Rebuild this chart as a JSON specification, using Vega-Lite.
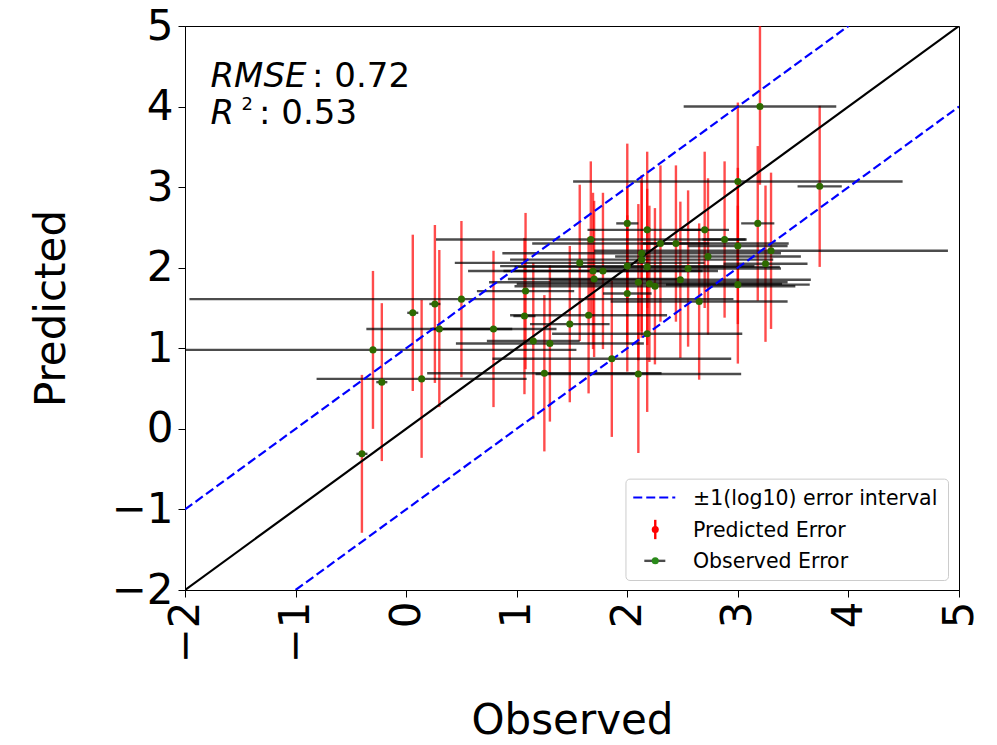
{
  "$schema": "https://vega.github.io/schema/vega-lite/v6.json",
  "autosize": {"type": "none"},
  "padding": {"left": 185, "top": 26, "right": 38, "bottom": 155},
  "width": 774,
  "height": 564,
  "background": "white",
  "config": {
    "font": "DejaVu Sans",
    "view": {"stroke": "#000", "strokeWidth": 1},
    "axis": {
      "grid": false, "domainColor": "#000", "domainWidth": 1, "tickColor": "#000", "tickWidth": 1,
      "labelColor": "#000", "titleColor": "#000", "labelFontSize": 42, "titleFontSize": 42,
      "titleFontWeight": "normal", "labelFont": "DejaVu Sans", "titleFont": "DejaVu Sans",
      "tickSize": 7, "labelFlush": false, "labelOverlap": false, "labelBound": false
    }
  },
  "datasets": {
    "points": [
      {"obs": -0.40, "pred": -0.31, "obs_lo": -0.45, "obs_hi": -0.35, "pred_lo": -1.29, "pred_hi": 0.67},
      {"obs": -0.30, "pred": 0.98, "obs_lo": -2.14, "obs_hi": 1.54, "pred_lo": 0.00, "pred_hi": 1.96},
      {"obs": -0.22, "pred": 0.58, "obs_lo": -0.27, "obs_hi": -0.17, "pred_lo": -0.40, "pred_hi": 1.56},
      {"obs": 0.06, "pred": 1.44, "obs_lo": 0.01, "obs_hi": 0.11, "pred_lo": 0.47, "pred_hi": 2.41},
      {"obs": 0.14, "pred": 0.62, "obs_lo": -0.81, "obs_hi": 1.09, "pred_lo": -0.36, "pred_hi": 1.60},
      {"obs": 0.26, "pred": 1.55, "obs_lo": 0.21, "obs_hi": 0.31, "pred_lo": 0.57, "pred_hi": 2.53},
      {"obs": 0.30, "pred": 1.24, "obs_lo": -0.36, "obs_hi": 0.96, "pred_lo": 0.27, "pred_hi": 2.22},
      {"obs": 0.50, "pred": 1.61, "obs_lo": -1.96, "obs_hi": 2.96, "pred_lo": 0.64, "pred_hi": 2.58},
      {"obs": 0.79, "pred": 1.24, "obs_lo": 0.22, "obs_hi": 1.36, "pred_lo": 0.27, "pred_hi": 2.21},
      {"obs": 1.08, "pred": 1.71, "obs_lo": 0.64, "obs_hi": 1.52, "pred_lo": 0.74, "pred_hi": 2.68},
      {"obs": 1.07, "pred": 1.40, "obs_lo": 0.97, "obs_hi": 1.17, "pred_lo": 0.43, "pred_hi": 2.37},
      {"obs": 1.15, "pred": 1.09, "obs_lo": 0.73, "obs_hi": 1.57, "pred_lo": 0.12, "pred_hi": 2.06},
      {"obs": 1.30, "pred": 1.06, "obs_lo": 0.45, "obs_hi": 2.15, "pred_lo": 0.09, "pred_hi": 2.03},
      {"obs": 1.25, "pred": 0.69, "obs_lo": 0.19, "obs_hi": 2.31, "pred_lo": -0.28, "pred_hi": 1.66},
      {"obs": 1.48, "pred": 1.30, "obs_lo": 1.12, "obs_hi": 1.84, "pred_lo": 0.33, "pred_hi": 2.27},
      {"obs": 1.65, "pred": 1.41, "obs_lo": 0.94, "obs_hi": 2.36, "pred_lo": 0.44, "pred_hi": 2.38},
      {"obs": 1.86, "pred": 0.87, "obs_lo": 0.78, "obs_hi": 2.94, "pred_lo": -0.10, "pred_hi": 1.84},
      {"obs": 2.10, "pred": 0.68, "obs_lo": 1.17, "obs_hi": 3.03, "pred_lo": -0.30, "pred_hi": 1.66},
      {"obs": 2.18, "pred": 1.18, "obs_lo": 1.32, "obs_hi": 3.04, "pred_lo": 0.21, "pred_hi": 2.15},
      {"obs": 2.65, "pred": 1.58, "obs_lo": 1.85, "obs_hi": 3.45, "pred_lo": 0.61, "pred_hi": 2.55},
      {"obs": 2.00, "pred": 1.68, "obs_lo": 1.78, "obs_hi": 2.22, "pred_lo": 0.71, "pred_hi": 2.65},
      {"obs": 2.25, "pred": 1.77, "obs_lo": 0.98, "obs_hi": 3.52, "pred_lo": 0.80, "pred_hi": 2.74},
      {"obs": 2.20, "pred": 1.80, "obs_lo": 1.00, "obs_hi": 3.40, "pred_lo": 0.83, "pred_hi": 2.77},
      {"obs": 2.10, "pred": 1.82, "obs_lo": 0.75, "obs_hi": 3.45, "pred_lo": 0.85, "pred_hi": 2.79},
      {"obs": 2.48, "pred": 1.85, "obs_lo": 1.30, "obs_hi": 3.66, "pred_lo": 0.88, "pred_hi": 2.82},
      {"obs": 1.70, "pred": 1.86, "obs_lo": 0.92, "obs_hi": 2.48, "pred_lo": 0.89, "pred_hi": 2.83},
      {"obs": 2.55, "pred": 1.99, "obs_lo": 1.71, "obs_hi": 3.39, "pred_lo": 1.02, "pred_hi": 2.96},
      {"obs": 1.78, "pred": 1.96, "obs_lo": 0.88, "obs_hi": 2.68, "pred_lo": 0.99, "pred_hi": 2.93},
      {"obs": 1.69, "pred": 1.96, "obs_lo": 0.56, "obs_hi": 2.82, "pred_lo": 0.99, "pred_hi": 2.93},
      {"obs": 2.18, "pred": 2.01, "obs_lo": 0.98, "obs_hi": 3.38, "pred_lo": 1.04, "pred_hi": 2.98},
      {"obs": 2.00, "pred": 2.02, "obs_lo": 0.85, "obs_hi": 3.15, "pred_lo": 1.05, "pred_hi": 2.99},
      {"obs": 1.57, "pred": 2.06, "obs_lo": 0.44, "obs_hi": 2.70, "pred_lo": 1.09, "pred_hi": 3.03},
      {"obs": 2.73, "pred": 2.14, "obs_lo": 1.89, "obs_hi": 3.57, "pred_lo": 1.17, "pred_hi": 3.11},
      {"obs": 2.13, "pred": 2.10, "obs_lo": 0.94, "obs_hi": 3.32, "pred_lo": 1.13, "pred_hi": 3.07},
      {"obs": 2.13, "pred": 2.18, "obs_lo": 0.87, "obs_hi": 3.39, "pred_lo": 1.21, "pred_hi": 3.15},
      {"obs": 2.44, "pred": 2.30, "obs_lo": 2.14, "obs_hi": 2.74, "pred_lo": 1.33, "pred_hi": 3.27},
      {"obs": 2.30, "pred": 2.30, "obs_lo": 1.14, "obs_hi": 3.46, "pred_lo": 1.33, "pred_hi": 3.27},
      {"obs": 1.67, "pred": 2.35, "obs_lo": 0.27, "obs_hi": 3.07, "pred_lo": 1.38, "pred_hi": 3.32},
      {"obs": 2.70, "pred": 2.47, "obs_lo": 2.48, "obs_hi": 2.92, "pred_lo": 1.50, "pred_hi": 3.44},
      {"obs": 2.18, "pred": 2.47, "obs_lo": 1.64, "obs_hi": 2.72, "pred_lo": 1.50, "pred_hi": 3.44},
      {"obs": 2.00, "pred": 2.55, "obs_lo": 1.90, "obs_hi": 2.10, "pred_lo": 1.56, "pred_hi": 3.54},
      {"obs": 3.20, "pred": 4.00, "obs_lo": 2.51, "obs_hi": 3.89, "pred_lo": 3.03, "pred_hi": 5.00},
      {"obs": 3.00, "pred": 3.07, "obs_lo": 1.51, "obs_hi": 4.49, "pred_lo": 2.09, "pred_hi": 4.05},
      {"obs": 3.74, "pred": 3.01, "obs_lo": 3.54, "obs_hi": 3.94, "pred_lo": 2.01, "pred_hi": 4.01},
      {"obs": 3.18, "pred": 2.55, "obs_lo": 3.03, "obs_hi": 3.33, "pred_lo": 1.59, "pred_hi": 3.51},
      {"obs": 2.88, "pred": 2.35, "obs_lo": 2.68, "obs_hi": 3.08, "pred_lo": 1.38, "pred_hi": 3.32},
      {"obs": 3.00, "pred": 2.27, "obs_lo": 2.55, "obs_hi": 3.45, "pred_lo": 1.30, "pred_hi": 3.24},
      {"obs": 3.30, "pred": 2.21, "obs_lo": 1.70, "obs_hi": 4.90, "pred_lo": 1.24, "pred_hi": 3.18},
      {"obs": 3.25, "pred": 2.05, "obs_lo": 2.87, "obs_hi": 3.63, "pred_lo": 1.08, "pred_hi": 3.02},
      {"obs": 3.00, "pred": 1.79, "obs_lo": 2.35, "obs_hi": 3.65, "pred_lo": 0.81, "pred_hi": 2.77}
    ],
    "identity": [{"obs": -2, "pred": -2}, {"obs": 5, "pred": 5}],
    "bands": [
      {"obs": -2, "pred": -1, "band": "upper"}, {"obs": 4, "pred": 5, "band": "upper"},
      {"obs": -1, "pred": -2, "band": "lower"}, {"obs": 5, "pred": 4, "band": "lower"}
    ],
    "one": [{}]
  },
  "encoding": {
    "x": {"type": "quantitative",
          "scale": {"domain": [-2, 5], "nice": false, "zero": false},
          "axis": {"values": [-2, -1, 0, 1, 2, 3, 4, 5], "format": "d", "labelAngle": 270, "labelPadding": 4,
                   "labelExpr": "replace(datum.label, '-', '−')", "title": "Observed", "titlePadding": 38}},
    "y": {"type": "quantitative",
          "scale": {"domain": [-2, 5], "nice": false, "zero": false},
          "axis": {"values": [-2, -1, 0, 1, 2, 3, 4, 5], "format": "d", "labelPadding": 5,
                   "labelExpr": "replace(datum.label, '-', '−')", "title": "Predicted", "titlePadding": 38}}
  },
  "layer": [
    {
      "data": {"name": "points"},
      "mark": {"type": "rule", "color": "red", "opacity": 0.7, "strokeWidth": 2.4, "clip": true},
      "encoding": {
        "x": {"field": "obs"},
        "y": {"field": "pred_lo"},
        "y2": {"field": "pred_hi"}
      }
    },
    {
      "data": {"name": "points"},
      "mark": {"type": "rule", "color": "black", "opacity": 0.7, "strokeWidth": 2.4, "clip": true},
      "encoding": {
        "x": {"field": "obs_lo"},
        "x2": {"field": "obs_hi"},
        "y": {"field": "pred"}
      }
    },
    {
      "data": {"name": "identity"},
      "mark": {"type": "line", "color": "black", "strokeWidth": 2.2, "clip": true},
      "encoding": {
        "x": {"field": "obs"},
        "y": {"field": "pred"}
      }
    },
    {
      "data": {"name": "bands"},
      "mark": {"type": "line", "color": "blue", "strokeWidth": 2.2, "strokeDash": [9, 4], "clip": true},
      "encoding": {
        "x": {"field": "obs"},
        "y": {"field": "pred"},
        "detail": {"field": "band", "type": "nominal"}
      }
    },
    {
      "data": {"name": "points"},
      "mark": {"type": "point", "filled": true, "shape": "circle", "size": 50, "color": "#2d6a00", "opacity": 1},
      "encoding": {
        "x": {"field": "obs"},
        "y": {"field": "pred"}
      }
    },
    {
      "data": {"name": "one"},
      "mark": {"type": "text", "text": "RMSE", "fontStyle": "italic", "fontSize": 34, "align": "left", "baseline": "alphabetic", "color": "black"},
      "encoding": {"x": {"datum": -1.77}, "y": {"datum": 4.243}}
    },
    {
      "data": {"name": "one"},
      "mark": {"type": "text", "text": ": 0.72", "fontSize": 34, "align": "left", "baseline": "alphabetic", "color": "black"},
      "encoding": {"x": {"datum": -0.851}, "y": {"datum": 4.243}}
    },
    {
      "data": {"name": "one"},
      "mark": {"type": "text", "text": "R", "fontStyle": "italic", "fontSize": 34, "align": "left", "baseline": "alphabetic", "color": "black"},
      "encoding": {"x": {"datum": -1.77}, "y": {"datum": 3.784}}
    },
    {
      "data": {"name": "one"},
      "mark": {"type": "text", "text": "2", "fontSize": 18, "align": "left", "baseline": "alphabetic", "color": "black"},
      "encoding": {"x": {"datum": -1.49}, "y": {"datum": 3.958}}
    },
    {
      "data": {"name": "one"},
      "mark": {"type": "text", "text": ": 0.53", "fontSize": 34, "align": "left", "baseline": "alphabetic", "color": "black"},
      "encoding": {"x": {"datum": -1.33}, "y": {"datum": 3.784}}
    },
    {
      "data": {"name": "one"},
      "mark": {"type": "rect", "fill": "white", "fillOpacity": 0.8, "stroke": "#cccccc", "strokeWidth": 1, "cornerRadius": 4},
      "encoding": {
        "x": {"datum": 1.988}, "x2": {"datum": 4.905},
        "y": {"datum": -0.624}, "y2": {"datum": -1.882}
      }
    },
    {
      "data": {"name": "one"},
      "mark": {"type": "rule", "color": "blue", "strokeWidth": 2.2, "strokeDash": [9, 4]},
      "encoding": {
        "x": {"datum": 2.054}, "x2": {"datum": 2.434},
        "y": {"datum": -0.852}
      }
    },
    {
      "data": {"name": "one"},
      "mark": {"type": "rule", "color": "red", "strokeWidth": 2.4},
      "encoding": {
        "x": {"datum": 2.253},
        "y": {"datum": -1.129}, "y2": {"datum": -1.369}
      }
    },
    {
      "data": {"name": "one"},
      "mark": {"type": "point", "filled": true, "shape": "circle", "size": 50, "color": "red", "opacity": 1},
      "encoding": {
        "x": {"datum": 2.253},
        "y": {"datum": -1.249}
      }
    },
    {
      "data": {"name": "one"},
      "mark": {"type": "rule", "color": "black", "opacity": 0.7, "strokeWidth": 2.4},
      "encoding": {
        "x": {"datum": 2.154}, "x2": {"datum": 2.344},
        "y": {"datum": -1.638}
      }
    },
    {
      "data": {"name": "one"},
      "mark": {"type": "point", "filled": true, "shape": "circle", "size": 50, "color": "#2a8a1a", "opacity": 1},
      "encoding": {
        "x": {"datum": 2.253},
        "y": {"datum": -1.638}
      }
    },
    {
      "data": {"name": "one"},
      "mark": {"type": "text", "text": "±1(log10) error interval", "fontSize": 20.5, "align": "left", "baseline": "alphabetic", "color": "black"},
      "encoding": {"x": {"datum": 2.594}, "y": {"datum": -0.949}}
    },
    {
      "data": {"name": "one"},
      "mark": {"type": "text", "text": "Predicted Error", "fontSize": 20.5, "align": "left", "baseline": "alphabetic", "color": "black"},
      "encoding": {"x": {"datum": 2.594}, "y": {"datum": -1.34}}
    },
    {
      "data": {"name": "one"},
      "mark": {"type": "text", "text": "Observed Error", "fontSize": 20.5, "align": "left", "baseline": "alphabetic", "color": "black"},
      "encoding": {"x": {"datum": 2.594}, "y": {"datum": -1.731}}
    }
  ]
}
